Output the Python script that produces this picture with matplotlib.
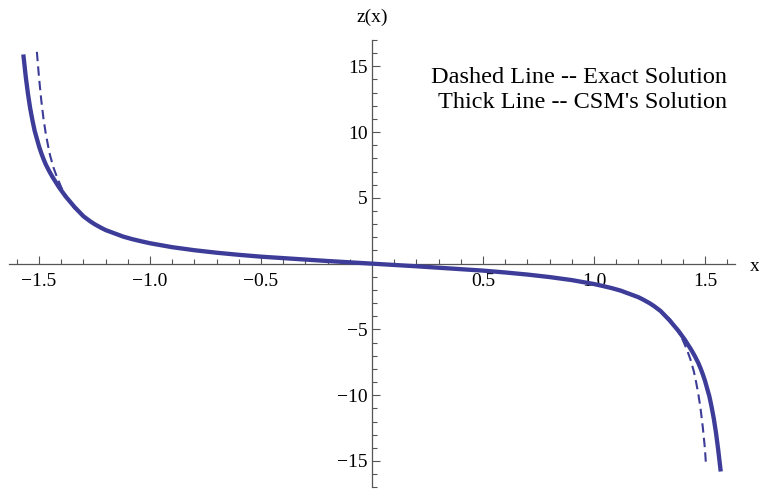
import matplotlib.pyplot as plt

plt.rcParams["font.family"] = ["Liberation Serif", "DejaVu Serif"]

# values
exact_x = [-1.51, -1.50, -1.49, -1.48, -1.47, -1.46, -1.45, -1.435, -1.42, -1.40, -1.38,
           -1.36, -1.34, -1.32, -1.30, -1.27, -1.25, -1.22, -1.20, -1.15, -1.10, -1.05,
           -1.0, -0.9, -0.8, -0.7, -0.6, -0.5, -0.4, -0.3, -0.2, -0.1, 0.0,
           0.1, 0.2, 0.3, 0.4, 0.5, 0.6, 0.7, 0.8, 0.9, 1.0, 1.05, 1.10, 1.15, 1.20,
           1.22, 1.25, 1.27, 1.30, 1.32, 1.34, 1.36, 1.38, 1.40, 1.42, 1.435, 1.45,
           1.46, 1.47, 1.48, 1.49, 1.50, 1.505]
exact_y = [16.1, 14.1, 12.4, 11.0, 9.9, 9.0, 8.2, 7.3, 6.6, 5.8, 5.2,
           4.6, 4.2, 3.9, 3.6, 3.2, 3.0, 2.7, 2.6, 2.2, 2.0, 1.75,
           1.56, 1.26, 1.03, 0.84, 0.68, 0.55, 0.42, 0.31, 0.20, 0.10, 0.0,
           -0.10, -0.20, -0.31, -0.42, -0.55, -0.68, -0.84, -1.03, -1.26, -1.56, -1.75, -2.0, -2.2, -2.6,
           -2.7, -3.0, -3.2, -3.6, -3.9, -4.2, -4.6, -5.2, -5.8, -6.6, -7.3, -8.2,
           -9.0, -9.9, -11.0, -12.4, -14.1, -15.4]

csm_x = [-1.571, -1.56, -1.55, -1.54, -1.53, -1.52, -1.51, -1.50, -1.49, -1.48, -1.47,
         -1.455, -1.44, -1.425, -1.41, -1.395, -1.38, -1.36, -1.34, -1.32, -1.30,
         -1.27, -1.25, -1.22, -1.20, -1.16, -1.12, -1.08, -1.04, -1.0, -0.95, -0.9,
         -0.8, -0.7, -0.6, -0.5, -0.4, -0.3, -0.2, -0.1, 0.0,
         0.1, 0.2, 0.3, 0.4, 0.5, 0.6, 0.7, 0.8, 0.9, 0.95, 1.0,
         1.04, 1.08, 1.12, 1.16, 1.20, 1.22, 1.25, 1.27, 1.30, 1.32, 1.34, 1.36,
         1.38, 1.395, 1.41, 1.425, 1.44, 1.455, 1.47, 1.48, 1.49, 1.50, 1.51,
         1.52, 1.53, 1.54, 1.55, 1.56, 1.571]
csm_y = [15.9, 14.2, 12.9, 11.8, 10.9, 10.1, 9.5, 8.9, 8.4, 7.95, 7.55,
         7.05, 6.6, 6.2, 5.8, 5.45, 5.1, 4.7, 4.3, 3.95, 3.6,
         3.22, 3.0, 2.72, 2.55, 2.3, 2.05, 1.86, 1.7, 1.55, 1.4, 1.25,
         1.02, 0.83, 0.67, 0.53, 0.42, 0.31, 0.20, 0.10, 0.0,
         -0.10, -0.20, -0.31, -0.42, -0.53, -0.67, -0.83, -1.02, -1.25, -1.4, -1.55,
         -1.7, -1.86, -2.05, -2.3, -2.55, -2.72, -3.0, -3.22, -3.6, -3.95, -4.3, -4.7,
         -5.1, -5.45, -5.8, -6.2, -6.6, -7.05, -7.55, -7.95, -8.4, -8.9, -9.5,
         -10.1, -10.9, -11.8, -12.9, -14.2, -15.8]

x_major = [-1.5, -1.0, -0.5, 0.5, 1.0, 1.5]
x_labels = ["\u22121.5", "\u22121.0", "\u22120.5", "0.5", "1.0", "1.5"]
y_major = [-15, -10, -5, 5, 10, 15]
y_labels = ["\u221215", "\u221210", "\u22125", "5", "10", "15"]

line_col = "#3d3d99"
axis_col = "#555555"

fig = plt.figure(figsize=(7.59, 4.90), dpi=100)
ax = fig.add_axes([0.0123, 0.0055, 0.9557, 0.9129])

ax.plot(exact_x, exact_y, color=line_col, lw=1.5, ls=(0, (4.5, 2.5)), zorder=3)
ax.plot(csm_x, csm_y, color=line_col, lw=3.1, solid_capstyle="butt",
        solid_joinstyle="round", zorder=4)

ax.set_xlim(-1.634, 1.634)
ax.set_ylim(-17, 17)

for s in ["top", "right"]:
    ax.spines[s].set_visible(False)
for s in ["left", "bottom"]:
    ax.spines[s].set_position(("data", 0))
    ax.spines[s].set_color(axis_col)
    ax.spines[s].set_linewidth(0.9)

ax.set_xticks(x_major, x_labels)
ax.set_xticks([v / 10 for v in range(-16, 17) if v % 5 != 0], minor=True)
ax.set_yticks(y_major, y_labels)
ax.set_yticks([v for v in range(-17, 18) if v % 5 != 0], minor=True)

ax.tick_params(axis="x", which="both", direction="in", color=axis_col, width=0.8,
               labelsize=14, pad=7)
ax.tick_params(axis="y", which="both", direction="in", color=axis_col, width=0.8,
               labelsize=14, pad=3)
ax.tick_params(which="major", length=5.8)
ax.tick_params(which="minor", length=3.4)

ax.text(0, 18.7, "z(x)", ha="center", va="center", fontsize=14, clip_on=False)
ax.text(1.70, -0.25, "x", ha="left", va="center", fontsize=14, clip_on=False)

ax.text(1.599, 13.72, "Dashed Line -- Exact Solution", ha="right", va="baseline", fontsize=17.5)
ax.text(1.599, 11.83, "Thick Line -- CSM's Solution", ha="right", va="baseline", fontsize=17.5)

fig.savefig("out.png", dpi=100)
